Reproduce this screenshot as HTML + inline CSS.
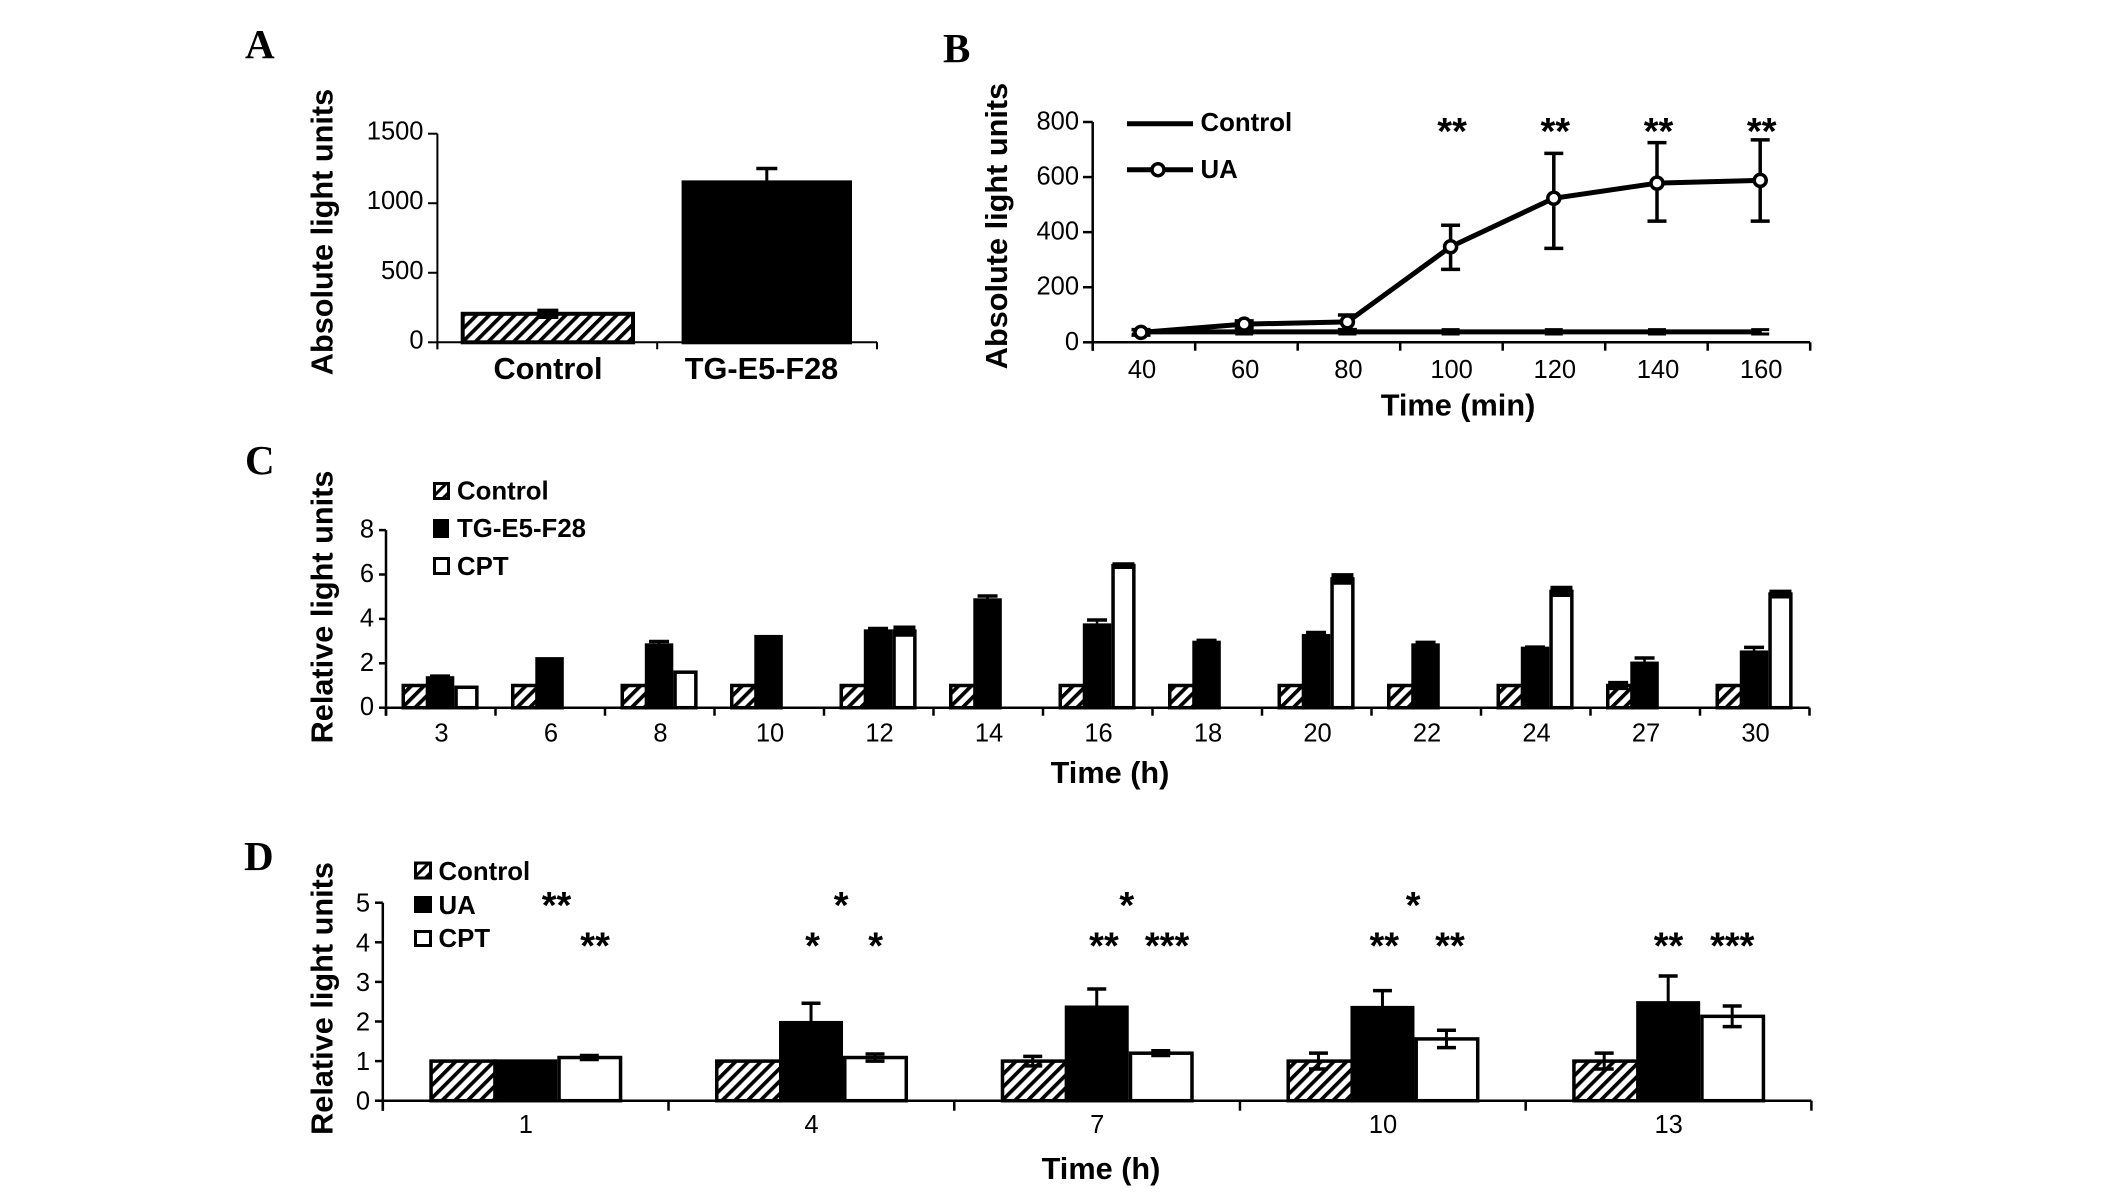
<!DOCTYPE html>
<html lang="en">
<head>
<meta charset="utf-8">
<title>Absolute and relative light units</title>
<style>
html,body{margin:0;padding:0;background:#fff;}
svg{display:block;}
text{font-family:"Liberation Sans",sans-serif;fill:#000;}
.panel{font-family:"Liberation Serif",serif;font-weight:bold;font-size:41px;}
.title{font-weight:bold;font-size:30.7px;}
.leg{font-weight:bold;font-size:25.8px;}
</style>
</head>
<body>
<svg id="fig" xmlns="http://www.w3.org/2000/svg" width="2126" height="1196" viewBox="0 0 2126 1196">
<defs>
<pattern id="hatch" patternUnits="userSpaceOnUse" width="9" height="9" patternTransform="rotate(45)">
<rect width="9" height="9" fill="#fff"/><rect x="0" width="3.7" height="9" fill="#000"/>
</pattern>
<pattern id="hatch-small" patternUnits="userSpaceOnUse" width="8" height="8" patternTransform="rotate(45)">
<rect width="8" height="8" fill="#fff"/><rect x="0" width="3" height="8" fill="#000"/>
</pattern>
</defs>
<rect width="2126" height="1196" fill="#fff"/>

<text class="panel" x="245" y="58">A</text>
<text class="panel" x="943" y="62">B</text>
<text class="panel" x="245" y="474">C</text>
<text class="panel" x="244" y="870">D</text>

<text class="title" text-anchor="middle" transform="translate(332.5,232) rotate(-90)">Absolute light units</text>
<text class="title" text-anchor="middle" transform="translate(1007,226) rotate(-90)">Absolute light units</text>
<text class="title" text-anchor="middle" transform="translate(332.5,607) rotate(-90)">Relative light units</text>
<text class="title" text-anchor="middle" transform="translate(332.5,998.5) rotate(-90)">Relative light units</text>

<text class="title" x="1458" y="415.5" text-anchor="middle">Time (min)</text>
<text class="title" x="1110" y="783" text-anchor="middle">Time (h)</text>
<text class="title" x="1101" y="1179" text-anchor="middle">Time (h)</text>

<g>
<line x1="1127" x2="1193" y1="123.7" y2="123.7" stroke="#000" stroke-width="5"/>
<text class="leg" x="1200.5" y="131">Control</text>
<line x1="1127" x2="1193" y1="169.7" y2="169.7" stroke="#000" stroke-width="5"/>
<circle cx="1158" cy="169.7" r="6" fill="#fff" stroke="#000" stroke-width="3.5"/>
<text class="leg" x="1200.5" y="178">UA</text>
</g>

<g>
<rect x="434.5" y="483.5" width="14" height="15" fill="url(#hatch-small)" stroke="#000" stroke-width="3"/>
<text class="leg" x="457" y="499.5">Control</text>
<rect x="433" y="519" width="16" height="19" fill="#000"/>
<text class="leg" x="457" y="537">TG-E5-F28</text>
<rect x="434.5" y="558.5" width="14" height="15" fill="#fff" stroke="#000" stroke-width="3"/>
<text class="leg" x="457" y="575">CPT</text>
</g>

<g>
<rect x="415.5" y="863" width="15" height="15" fill="url(#hatch-small)" stroke="#000" stroke-width="3"/>
<text class="leg" x="438.5" y="880">Control</text>
<rect x="414" y="896" width="18" height="17" fill="#000"/>
<text class="leg" x="438.5" y="914">UA</text>
<rect x="415.5" y="931.5" width="15" height="14" fill="#fff" stroke="#000" stroke-width="3"/>
<text class="leg" x="438.5" y="947">CPT</text>
</g>

<g id="chart-a"></g>
<g id="chart-b"></g>
<g id="chart-c"></g>
<g id="chart-d"></g>
</svg>

<script>
// Panel A data
const aCategories = ['Control', 'TG-E5-F28'];
const aValues = [205, 1150];
const aErrors = [25, 100];
const aYTicks = [0, 500, 1000, 1500];

// Panel B data
const bTimes = [40, 60, 80, 100, 120, 140, 160];
const bControl = [38, 38, 38, 38, 38, 38, 38];
const bControlErr = [8, 8, 8, 8, 8, 8, 8];
const bUA = [36, 66, 74, 347, 523, 578, 588];
const bUAErrHigh = [10, 12, 25, 78, 163, 147, 147];
const bUAErrLow = [10, 12, 28, 82, 182, 138, 148];
const bYTicks = [0, 200, 400, 600, 800];
const bStarTimes = [100, 120, 140, 160];
const bStarLabels = ['**', '**', '**', '**'];
const bStarValue = 783;

// Panel C data
const cCategories = ['3', '6', '8', '10', '12', '14', '16', '18', '20', '22', '24', '27', '30'];
const cControl = [1, 1, 1, 1, 1, 1, 1, 1, 1, 1, 1, 1, 1];
const cControlErr = [0, 0, 0, 0, 0, 0, 0, 0, 0, 0, 0, 0.13, 0];
const cTG = [1.34, 2.2, 2.82, 3.2, 3.45, 4.85, 3.72, 2.94, 3.24, 2.82, 2.67, 2.0, 2.5];
const cTGErr = [0.08, 0, 0.16, 0, 0.12, 0.18, 0.23, 0.09, 0.15, 0.12, 0.06, 0.24, 0.22];
const cCPT = [0.92, null, 1.6, null, 3.45, null, 6.4, null, 5.8, null, 5.24, null, 5.12];
const cCPTErr = [0, 0, 0, 0, 0.15, 0, 0.05, 0, 0.16, 0, 0.15, 0, 0.1];
const cYTicks = [0, 2, 4, 6, 8];

// Panel D data
const dCategories = ['1', '4', '7', '10', '13'];
const dControl = [1, 1, 1, 1, 1];
const dControlErr = [0, 0, 0.12, 0.2, 0.2];
const dUA = [1, 1.97, 2.36, 2.35, 2.47];
const dUAErr = [0, 0.49, 0.46, 0.43, 0.68];
const dCPT = [1.09, 1.09, 1.2, 1.56, 2.13];
const dCPTErr = [0.05, 0.09, 0.06, 0.22, 0.26];
const dYTicks = [0, 1, 2, 3, 4, 5];
const dStarLabels = ['**', '**', '*', '*', '*', '*', '**', '***', '*', '**', '**', '**', '***'];
const dStarCats = [0.608, 0.743, 1.604, 1.504, 1.725, 2.604, 2.524, 2.745, 3.606, 3.505, 3.735, 4.5, 4.723];
const dStarValues = [5.05, 4.03, 5.05, 4.03, 4.03, 5.05, 4.03, 4.03, 5.05, 4.03, 4.03, 4.03, 4.03];

const NS = 'http://www.w3.org/2000/svg';

function shape(parent, tag, name, attrs) {
  const el = document.createElementNS(NS, tag);
  Object.keys(attrs).forEach(function (k) { el.setAttribute(k, attrs[k]); });
  
  
  parent.appendChild(el);
  return el;
}
function line(parent, name, x1, y1, x2, y2, w) {
  return shape(parent, 'line', name, { x1: x1, y1: y1, x2: x2, y2: y2, stroke: '#000', 'stroke-width': w });
}
function label(parent, name, x, y, str, anchor, size, weight) {
  const el = shape(parent, 'text', name, { x: x, y: y, 'text-anchor': anchor, 'font-size': size, 'font-weight': weight || 'normal' });
  el.textContent = str;
  return el;
}
function yAxis(parent, ticks, yFn, axisX, tickLeft, labelRight, bottomY, w, labelDy) {
  line(parent, 'y-axis-line', axisX, yFn(ticks[ticks.length - 1]), axisX, bottomY, w);
  ticks.forEach(function (t) {
    line(parent, 'y-tick', tickLeft, yFn(t), axisX, yFn(t), w);
    label(parent, 'y-tick-label', labelRight, yFn(t) + labelDy, String(t), 'end', 25.5);
  });
}
function xAxis(parent, count, tickFn, y, bottomY, w) {
  line(parent, 'x-axis-line', tickFn(0), y, tickFn(count), y, w);
  for (let i = 0; i <= count; i++) {
    line(parent, 'x-tick', tickFn(i), y, tickFn(i), bottomY, w);
  }
}
function bar(parent, name, x, w, top, base, kind, sw) {
  const fill = kind === 'hatch' ? 'url(#hatch)' : (kind === 'solid' ? '#000' : '#fff');
  return shape(parent, 'rect', name, { x: x + sw / 2, y: top, width: w - sw, height: base - top, fill: fill, stroke: '#000', 'stroke-width': sw });
}
function errBar(parent, name, cx, yHigh, yLow, capW, sw, capSw) {
  line(parent, name + '-stem', cx, yHigh, cx, yLow, sw);
  line(parent, name + '-cap-top', cx - capW / 2, yHigh, cx + capW / 2, yHigh, capSw);
  line(parent, name + '-cap-bottom', cx - capW / 2, yLow, cx + capW / 2, yLow, capSw);
}
function star(parent, name, cx, cy, str) {
  // the asterisk glyph sits above the baseline, so shift down to centre it
  label(parent, name, cx, cy + 17.5, str, 'middle', 38, 'bold');
}

/* ---------- Panel A ---------- */
(function () {
  const g = document.getElementById('chart-a');
  const yA = function (v) { return 342.3 - v * (208.6 / 1500); };
  const tickA = function (i) { return 437.4 + i * 219.8; };
  const barLeft = [460.7, 681.6];
  const barWidth = [174.3, 170.4];
  const kinds = ['hatch', 'solid'];
  aCategories.forEach(function (c, i) {
    bar(g, 'bar-' + c.toLowerCase(), barLeft[i], barWidth[i], yA(aValues[i]), yA(0), kinds[i], 4);
    const cx = barLeft[i] + barWidth[i] / 2;
    errBar(g, 'error-bar-' + c.toLowerCase(), cx, yA(aValues[i] + aErrors[i]), yA(aValues[i] - aErrors[i]), 21, 3, 3.5);
  });
  yAxis(g, aYTicks, yA, 437.4, 428, 423.5, 349.3, 2, 6);
  xAxis(g, 2, tickA, yA(0), 349.3, 2);
  label(g, 'x-label-control', 548, 379, aCategories[0], 'middle', 30.7, 'bold');
  label(g, 'x-label-tg-e5-f28', 761.5, 379, aCategories[1], 'middle', 30.7, 'bold');
})();

/* ---------- Panel B ---------- */
(function () {
  const g = document.getElementById('chart-b');
  const yB = function (v) { return 342.3 - v * (220.3 / 800); };
  const xB = function (t) { return 1141 + (t - 40) * 5.16; };
  const tickB = function (i) { return 1092.7 + i * 102.5; };
  yAxis(g, bYTicks, yB, 1092.7, 1083, 1079, 350.7, 2.5, 7.5);
  xAxis(g, 7, tickB, yB(0), 350.7, 2.5);
  bTimes.forEach(function (t) {
    label(g, 'x-tick-label', xB(t) + 1, 378, String(t), 'middle', 25.5);
  });
  const toPoints = function (series) {
    return series.map(function (v, i) { return xB(bTimes[i]) + ',' + yB(v); }).join(' ');
  };
  shape(g, 'polyline', 'control-line', { points: toPoints(bControl), fill: 'none', stroke: '#000', 'stroke-width': 5 });
  bTimes.forEach(function (t, i) {
    errBar(g, 'control-error', xB(t), yB(bControl[i] + bControlErr[i]), yB(bControl[i] - bControlErr[i]), 18, 3, 3);
  });
  bTimes.forEach(function (t, i) {
    errBar(g, 'ua-error', xB(t), yB(bUA[i] + bUAErrHigh[i]), yB(bUA[i] - bUAErrLow[i]), 19, 3.5, 3.5);
  });
  shape(g, 'polyline', 'ua-line', { points: toPoints(bUA), fill: 'none', stroke: '#000', 'stroke-width': 5 });
  bTimes.forEach(function (t, i) {
    shape(g, 'circle', 'ua-point', { cx: xB(t), cy: yB(bUA[i]), r: 6, fill: '#fff', stroke: '#000', 'stroke-width': 3.5 });
  });
  bStarTimes.forEach(function (t, i) {
    star(g, 'significance-stars', xB(t) + 1.5, yB(bStarValue), bStarLabels[i]);
  });
})();

/* ---------- Panel C ---------- */
(function () {
  const g = document.getElementById('chart-c');
  const yC = function (v) { return 707.7 - v * 22.2; };
  const tickC = function (i) { return 386 + i * 109.5; };
  const ctrlW = 24.3;
  const tgW = 28.5;
  const cptW = 24.3;
  const pad = 15.5;
  const sw = 3.5;
  cCategories.forEach(function (c, i) {
    const x0 = tickC(i) + pad;
    const xTg = x0 + ctrlW;
    const xCpt = xTg + tgW;
    // control outline extends under the solid bar so hatching meets it directly
    bar(g, 'bar-control-' + c + 'h', x0, ctrlW + sw, yC(cControl[i]), yC(0), 'hatch', sw);
    bar(g, 'bar-tg-' + c + 'h', xTg, tgW, yC(cTG[i]), yC(0), 'solid', sw);
    if (cCPT[i] !== null) {
      bar(g, 'bar-cpt-' + c + 'h', xCpt, cptW, yC(cCPT[i]), yC(0), 'plain', sw);
    }
    if (cControlErr[i] > 0) {
      errBar(g, 'error-control', x0 + ctrlW / 2, yC(cControl[i] + cControlErr[i]), yC(cControl[i] - cControlErr[i]), 20, 2.5, 3.5);
    }
    if (cTGErr[i] > 0) {
      errBar(g, 'error-tg', xTg + tgW / 2, yC(cTG[i] + cTGErr[i]), yC(cTG[i] - cTGErr[i]), 20, 2.5, 3.5);
    }
    if (cCPTErr[i] > 0) {
      errBar(g, 'error-cpt', xCpt + cptW / 2, yC(cCPT[i] + cCPTErr[i]), yC(cCPT[i] - cCPTErr[i]), 22, 2.5, 4.5);
    }
    label(g, 'x-tick-label', tickC(i) + 55.5, 741.7, c, 'middle', 25.5);
  });
  yAxis(g, cYTicks, yC, 386, 379, 374, 715.7, 2.5, 7.5);
  xAxis(g, 13, tickC, yC(0), 715.7, 2.5);
})();

/* ---------- Panel D ---------- */
(function () {
  const g = document.getElementById('chart-d');
  const yD = function (v) { return 1100.7 - v * 39.6; };
  const tickD = function (i) { return 382.8 + i * 285.72; };
  const bw = 64;
  const pad = 46.5;
  const sw = 3.5;
  dCategories.forEach(function (c, i) {
    const x0 = tickD(i) + pad;
    // control outline extends under the solid bar so hatching meets it directly
    bar(g, 'bar-control-' + c + 'h', x0, bw + sw, yD(dControl[i]), yD(0), 'hatch', sw);
    bar(g, 'bar-ua-' + c + 'h', x0 + bw, bw, yD(dUA[i]), yD(0), 'solid', sw);
    bar(g, 'bar-cpt-' + c + 'h', x0 + 2 * bw, bw + 1, yD(dCPT[i]), yD(0), 'plain', sw);
    if (dControlErr[i] > 0) {
      errBar(g, 'error-control', x0 + bw / 2, yD(dControl[i] + dControlErr[i]), yD(dControl[i] - dControlErr[i]), 19, 3, 3.5);
    }
    if (dUAErr[i] > 0) {
      errBar(g, 'error-ua', x0 + bw * 1.5, yD(dUA[i] + dUAErr[i]), yD(dUA[i] - dUAErr[i]), 19, 3, 3.5);
    }
    errBar(g, 'error-cpt', x0 + bw * 2.5, yD(dCPT[i] + dCPTErr[i]), yD(dCPT[i] - dCPTErr[i]), 19, 3, 3.5);
    label(g, 'x-tick-label', tickD(i) + 143, 1133, c, 'middle', 25.5);
  });
  yAxis(g, dYTicks, yD, 382.8, 375, 370, 1110.7, 2.5, 9);
  xAxis(g, 5, tickD, yD(0), 1110.7, 2.5);
  dStarLabels.forEach(function (s, i) {
    star(g, 'significance-stars', tickD(dStarCats[i]), yD(dStarValues[i]), s);
  });
})();
</script>
</body>
</html>
